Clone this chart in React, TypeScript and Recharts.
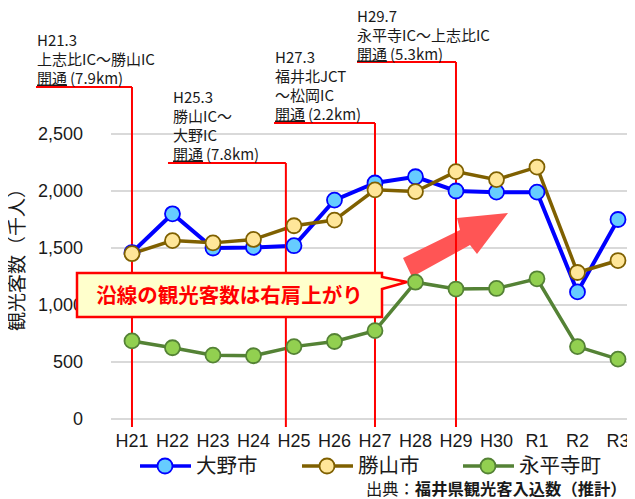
import React from 'react';
import { LineChart, Line, XAxis, YAxis, CartesianGrid, ReferenceLine, Customized } from 'recharts';

const categories = ['H21', 'H22', 'H23', 'H24', 'H25', 'H26', 'H27', 'H28', 'H29', 'H30', 'R1', 'R2', 'R3'];
const ono = [1460, 1800, 1500, 1505, 1520, 1920, 2070, 2125, 2000, 1990, 1990, 1115, 1750];
const katsuyama = [1450, 1565, 1545, 1575, 1695, 1745, 2010, 1995, 2170, 2100, 2210, 1285, 1390];
const eiheiji = [685, 625, 560, 555, 635, 680, 775, 1200, 1140, 1145, 1230, 635, 525];
const yTicks = [0, 500, 1000, 1500, 2000, 2500];

const seriesNames = ['大野市', '勝山市', '永平寺町'];
const seriesKeys = ['ono', 'katsuyama', 'eiheiji'];
const lineColors = ['#0000ff', '#7f6000', '#548235'];
const dotColors = ['#66ccff', '#ffe699', '#92d050'];

// opening annotations: vertical line position (category index), underline level (value), underline left end (index)
const annotationLines = [
  ['H21.3', '上志比IC～勝山IC', '開通', '(7.9km)'],
  ['H25.3', '勝山IC～', '大野IC', '開通', '(7.8km)'],
  ['H27.3', '福井北JCT', '～松岡IC', '開通', '(2.2km)'],
  ['H29.7', '永平寺IC～上志比IC', '開通', '(5.3km)'],
];
const annotationX = [0, 3.8, 6, 8];
const annotationLevel = [2912, 2246, 2596, 3132];
const annotationStart = [-2.37, 0.889, 3.507, 5.556];
const axisBottom = -70;

const data = categories.map((c, i) => ({
  idx: i,
  cat: c,
  ono: ono[i],
  katsuyama: katsuyama[i],
  eiheiji: eiheiji[i],
}));

const FONT = "'Liberation Sans', 'Noto Sans CJK JP', sans-serif";
const JP = "'Noto Sans CJK JP', 'Liberation Sans', sans-serif";

const Arrow = () => (
  <polygon
    points="403,258 460,230 457,218 508,213 477,254 470,245 412,277"
    fill="#ff5555"
  />
);

const textPos = [
  { x: 37, y: 40 },
  { x: 173, y: 97 },
  { x: 275, y: 57 },
  { x: 357, y: 16 },
];

export default function App() {
  return (
    <div style={{ position: 'relative', width: 635, height: 499, margin: '-8px 0 0 -8px', overflow: 'hidden', background: '#fff' }}>
      <LineChart
        width={635}
        height={499}
        data={data}
        margin={{ top: 134, right: 0, bottom: 50, left: 0 }}
        style={{ fontFamily: FONT }}
      >
        <CartesianGrid vertical={false} stroke="#d9d9d9" strokeWidth={2} />
        <XAxis
          dataKey="idx"
          type="number"
          domain={[-0.518, 12.42]}
          ticks={categories.map((_, i) => i)}
          tickFormatter={(v: number) => categories[v]}
          axisLine={false}
          tickLine={false}
          tickSize={0}
          tickMargin={15}
          height={30}
          allowDataOverflow
          interval={0}
          tick={{ fill: '#1a1a1a', fontSize: 18, fontFamily: FONT }}
        />
        <YAxis
          domain={[0, 2500]}
          ticks={yTicks}
          tickFormatter={(v: number) => v.toLocaleString('en-US')}
          axisLine={false}
          tickLine={false}
          tickSize={0}
          tickMargin={28}
          width={111}
          allowDataOverflow
          tick={{ fill: '#1a1a1a', fontSize: 18, fontFamily: FONT }}
        />
        <Customized component={<Arrow />} />
        {seriesKeys.map((k, i) => (
          <Line
            key={k}
            dataKey={k}
            name={seriesNames[i]}
            type="linear"
            stroke={lineColors[i]}
            strokeWidth={i === 0 ? 4 : 3.5}
            dot={{ r: 7.5, fill: dotColors[i], stroke: lineColors[i], strokeWidth: 1.8 }}
            isAnimationActive={false}
          />
        ))}
        {annotationX.map((x, i) => (
          <ReferenceLine
            key={'h' + i}
            segment={[{ x: annotationStart[i], y: annotationLevel[i] }, { x, y: annotationLevel[i] }]}
            stroke="#ff0000"
            strokeWidth={2}
            ifOverflow="visible"
          />
        ))}
        {annotationX.map((x, i) => (
          <ReferenceLine
            key={'v' + i}
            segment={[{ x, y: annotationLevel[i] }, { x, y: axisBottom }]}
            stroke="#ff0000"
            strokeWidth={2}
            ifOverflow="visible"
          />
        ))}
      </LineChart>
      <svg
        width={635}
        height={499}
        style={{ position: 'absolute', left: 0, top: 0, pointerEvents: 'none' }}
      >
        {annotationLines.map((lines, i) => {
          const n = lines.length;
          const body = lines.slice(0, n - 2);
          return (
            <g key={i} fontFamily={JP} fontSize={15} fill="#1a1a1a">
              {body.map((t, j) => (
                <text key={j} x={textPos[i].x} y={textPos[i].y + j * 19 + 5.5}>{t}</text>
              ))}
              <text x={textPos[i].x} y={textPos[i].y + body.length * 19 + 5.5}>
                <tspan textDecoration="underline">{lines[n - 2]}</tspan>
                <tspan dx={3}>{lines[n - 1]}</tspan>
              </text>
            </g>
          );
        })}
        <text
          x={0}
          y={0}
          transform="translate(24,255) rotate(-90)"
          textAnchor="middle"
          fontFamily={JP}
          fontSize={19}
          fill="#1a1a1a"
        >
          観光客数（千人）
        </text>
        <polygon
          points="77,273 382,273 382,277 407,282 382,289 382,317 77,317"
          fill="#ffffcc"
          stroke="#ff0000"
          strokeWidth={2.5}
        />
        <text x={229.5} y={303} textAnchor="middle" fontFamily={JP} fontWeight="bold" fontSize={20.5} fill="#ff0000">
          沿線の観光客数は右肩上がり
        </text>
        {seriesNames.map((name, i) => {
          const x0 = [140, 302, 463][i];
          return (
            <g key={name}>
              <line x1={x0} x2={x0 + 51} y1={466} y2={466} stroke={lineColors[i]} strokeWidth={3.5} />
              <circle cx={x0 + 25} cy={466} r={7.5} fill={dotColors[i]} stroke={lineColors[i]} strokeWidth={1.8} />
              <text x={x0 + 56} y={473} fontFamily={JP} fontSize={20.5} fill="#1a1a1a">{name}</text>
            </g>
          );
        })}
        <text x={366} y={495} fontFamily={JP} fontSize={16.3} fill="#1a1a1a">
          <tspan>出典：</tspan>
          <tspan fontWeight="bold">福井県観光客入込数（推計）</tspan>
        </text>
      </svg>
    </div>
  );
}
